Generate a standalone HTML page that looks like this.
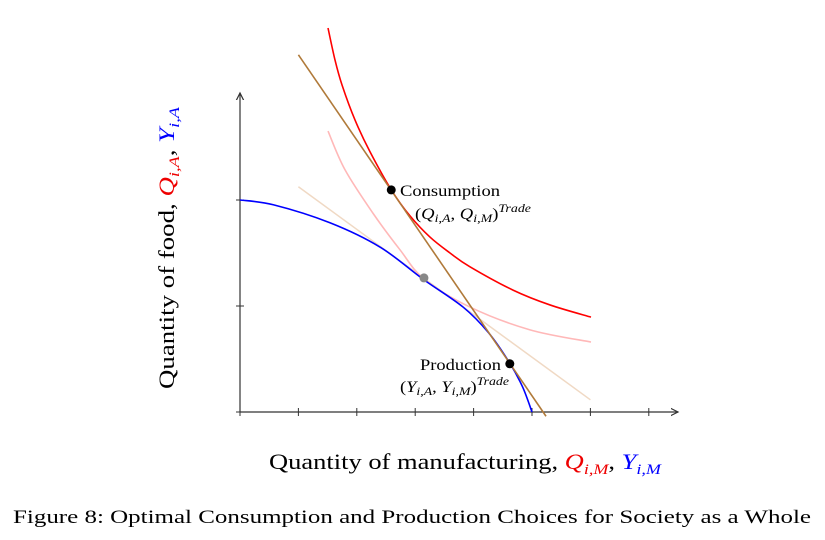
<!DOCTYPE html>
<html><head><meta charset="utf-8"><style>
body{margin:0;background:#fff;width:825px;height:535px;overflow:hidden;font-family:"Liberation Serif",serif}
svg text{font-family:"Liberation Serif",serif}
</style></head><body>
<svg id="chart" width="825" height="535" viewBox="0 0 825 535">
<defs><marker id="ar" markerWidth="8" markerHeight="8" refX="6" refY="4" orient="auto"><path d="M0,1 L6,4 L0,7" fill="none" stroke="#333" stroke-width="1"/></marker></defs>
<g id="plot"></g>
<text transform="translate(174,248) rotate(-90)" text-anchor="middle" font-size="22" textLength="282" lengthAdjust="spacingAndGlyphs">Quantity of food, <tspan fill="#e00" font-style="italic">Q<tspan font-size="15" dy="5">i,A</tspan></tspan><tspan dy="-5">, </tspan><tspan fill="#00f" font-style="italic">Y<tspan font-size="15" dy="5">i,A</tspan></tspan></text>
<text x="465" y="469" text-anchor="middle" font-size="22" textLength="392" lengthAdjust="spacingAndGlyphs">Quantity of manufacturing, <tspan fill="#e00" font-style="italic">Q<tspan font-size="15" dy="5">i,M</tspan></tspan><tspan dy="-5">, </tspan><tspan fill="#00f" font-style="italic">Y<tspan font-size="15" dy="5">i,M</tspan></tspan></text>
<text x="412" y="523" text-anchor="middle" font-size="19" textLength="798" lengthAdjust="spacingAndGlyphs">Figure 8: Optimal Consumption and Production Choices for Society as a Whole</text>
<text x="400" y="196" font-size="16" textLength="100" lengthAdjust="spacingAndGlyphs">Consumption</text>
<text x="415" y="219" font-size="16" textLength="116" lengthAdjust="spacingAndGlyphs">(<tspan font-style="italic">Q<tspan font-size="12" dy="3">i,A</tspan></tspan><tspan dy="-3">, </tspan><tspan font-style="italic">Q<tspan font-size="12" dy="3">i,M</tspan></tspan><tspan dy="-3">)</tspan><tspan font-size="12" font-style="italic" dy="-7">Trade</tspan></text>
<text x="420" y="370" font-size="16" textLength="81" lengthAdjust="spacingAndGlyphs">Production</text>
<text x="400" y="392" font-size="16" textLength="109" lengthAdjust="spacingAndGlyphs">(<tspan font-style="italic">Y<tspan font-size="12" dy="3">i,A</tspan></tspan><tspan dy="-3">, </tspan><tspan font-style="italic">Y<tspan font-size="12" dy="3">i,M</tspan></tspan><tspan dy="-3">)</tspan><tspan font-size="12" font-style="italic" dy="-7">Trade</tspan></text>
</svg>
<script>
const xTicks=[0,1,2,3,4,5,6,7];
const yTicks=[0,2,4];
const ppfX=[0,0.57,1.54,2.40,3.13,3.82,4.26,4.62,4.84,5.0];
const ppfY=[4,3.91,3.57,3.11,2.51,1.98,1.49,0.92,0.47,0];
const icTradeX=[1.507,1.627,1.747,1.969,2.226,2.603,2.911,3.253,3.596,3.938,4.675,5.308,6.01];
const icTradeY=[7.245,6.64,6.17,5.51,4.91,4.17,3.70,3.30,3.00,2.74,2.30,2.02,1.79];
const icAutX=[1.507,1.798,2.277,2.74,3.151,3.938,4.966,6.01];
const icAutY=[5.30,4.57,3.75,3.06,2.51,1.98,1.55,1.32];
const worldPriceX=[1.0,6.0];
const worldPriceY=[4.25,0.23];
const tradeLineX=[1.0,5.24];
const tradeLineY=[6.74,-0.08];
const pointX=[2.59,3.15,4.62];
const pointY=[4.19,2.53,0.91];
const pointColor=['#000','#888','#000'];
const X0=240,Y0=412,SX=58.4,SY=53;
const sx=v=>X0+v*SX, sy=v=>Y0-v*SY;
const g=document.getElementById('plot');
const NS='http://www.w3.org/2000/svg';
function mk(t,a){const e=document.createElementNS(NS,t);for(const k in a)e.setAttribute(k,a[k]);g.appendChild(e);return e;}
function smooth(xs,ys){const p=xs.map((x,i)=>[sx(x),sy(ys[i])]);let d='M'+p[0];for(let i=0;i<p.length-1;i++){const a=p[Math.max(i-1,0)],b=p[i],c=p[i+1],e=p[Math.min(i+2,p.length-1)];d+=' C'+(b[0]+(c[0]-a[0])/6)+','+(b[1]+(c[1]-a[1])/6)+' '+(c[0]-(e[0]-b[0])/6)+','+(c[1]-(e[1]-b[1])/6)+' '+c[0]+','+c[1];}return d;}
let e;
e=mk('line',{x1:sx(0),y1:sy(0),x2:678,y2:sy(0),stroke:'#333','stroke-width':1.2,'marker-end':'url(#ar)'});


e=mk('line',{x1:sx(0),y1:sy(0),x2:sx(0),y2:93,stroke:'#333','stroke-width':1.2,'marker-end':'url(#ar)'});


xTicks.forEach(t=>{e=mk('line',{x1:sx(t),x2:sx(t),y1:Y0-4,y2:Y0+4,stroke:'#333'});

});
yTicks.forEach(t=>{e=mk('line',{x1:X0-4,x2:X0+4,y1:sy(t),y2:sy(t),stroke:'#333'});

});
e=mk('line',{x1:sx(worldPriceX[0]),y1:sy(worldPriceY[0]),x2:sx(worldPriceX[1]),y2:sy(worldPriceY[1]),stroke:'#f0d9c4','stroke-width':1.5});


e=mk('path',{d:smooth(icAutX,icAutY),fill:'none',stroke:'#ffb8b8','stroke-width':1.6});


e=mk('path',{d:smooth(ppfX,ppfY),fill:'none',stroke:'#0000ff','stroke-width':1.6});


e=mk('path',{d:smooth(icTradeX,icTradeY),fill:'none',stroke:'#ff0000','stroke-width':1.6});


e=mk('line',{x1:sx(tradeLineX[0]),y1:sy(tradeLineY[0]),x2:sx(tradeLineX[1]),y2:sy(tradeLineY[1]),stroke:'#b07a3a','stroke-width':1.6});


pointX.forEach((x,i)=>{e=mk('circle',{cx:sx(x),cy:sy(pointY[i]),r:4.5,fill:pointColor[i]});

});
</script>
</body></html>
